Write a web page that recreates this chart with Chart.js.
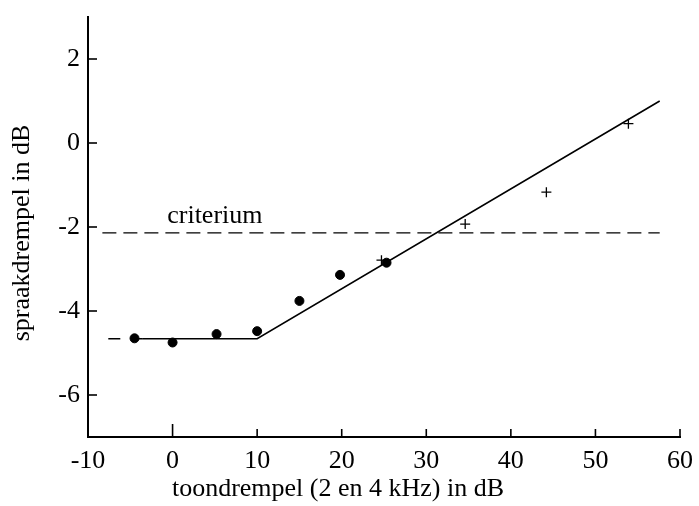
<!DOCTYPE html>
<html>
<head>
<meta charset="utf-8">
<script src="https://cdn.jsdelivr.net/npm/chart.js@4.4.0/dist/chart.umd.min.js"></script>
<style>
  html, body { margin: 0; padding: 0; background: #fff; }
  #wrap { width: 699px; height: 506px; }
</style>
</head>
<body>
<div id="wrap"><canvas id="drempelChart"></canvas></div>
<script>
// gemeten punten (dots) en plusjes
var dotX = [-4.5, 0, 5.2, 10, 15, 19.8, 25.3];
var dotY = [-4.65, -4.75, -4.55, -4.48, -3.76, -3.14, -2.85];
var plusX = [24.7, 34.6, 44.2, 53.9];
var plusY = [-2.79, -1.93, -1.17, 0.46];

// model lijn (knik bij 10 dB)
var fitDashX = [-7.6, -3.6];
var fitDashY = [-4.66, -4.66];
var fitX = [-3.6, 10, 57.6];
var fitY = [-4.66, -4.66, 1.0];

// criterium
var critX = [-8.3, 57.6];
var critY = [-2.14, -2.14];
var critLabel = 'criterium';
var critLabelPos = [5.0, -1.74];

var xTicks = [-10, 0, 10, 20, 30, 40, 50, 60];
var yTicks = [-6, -4, -2, 0, 2];

var xTitle = 'toondrempel (2 en 4 kHz) in dB';
var yTitle = 'spraakdrempel in dB';

function pts(xs, ys) {
    return xs.map(function (x, i) { return { x: x, y: ys[i] }; });
}

var serif = "'Liberation Serif', 'DejaVu Serif', serif";

var extras = {
    id: 'extras',
    afterDraw: function (chart) {
        var c = chart.ctx, xs = chart.scales.x, ys = chart.scales.y;
        var area = chart.chartArea;
        c.save();
        c.strokeStyle = '#000';
        c.lineWidth = 1.6;
        // ticks naar binnen
        xTicks.forEach(function (v) {
            var px = xs.getPixelForValue(v);
            var len = v === 0 ? 13 : 8;
            c.beginPath();
            c.moveTo(px, area.bottom);
            c.lineTo(px, area.bottom - len);
            c.stroke();
        });
        yTicks.forEach(function (v) {
            var py = ys.getPixelForValue(v);
            c.beginPath();
            c.moveTo(area.left, py);
            c.lineTo(area.left + 9, py);
            c.stroke();
        });
        c.fillStyle = '#000';
        c.font = '26px ' + serif;
        c.textAlign = 'center';
        c.textBaseline = 'middle';
        // criterium tekst
        c.fillText(critLabel, xs.getPixelForValue(critLabelPos[0]), ys.getPixelForValue(critLabelPos[1]));
        // as titels
        c.fillText(xTitle, 338, 489);
        c.translate(22, 233);
        c.rotate(-Math.PI / 2);
        c.fillText(yTitle, 0, 0);
        c.restore();
    }
};

var ctx = document.getElementById('drempelChart').getContext('2d');
var drempelChart = new Chart(ctx, {
    type: 'scatter',
    data: {
        datasets: [{
            data: pts(critX, critY),
            showLine: true,
            borderColor: '#000',
            borderWidth: 1.3,
            borderDash: [14, 7],
            pointRadius: 0
        }, {
            data: pts(fitDashX, fitDashY),
            showLine: true,
            borderColor: '#000',
            borderWidth: 1.5,
            borderDash: [12, 14],
            pointRadius: 0
        }, {
            data: pts(fitX, fitY),
            showLine: true,
            borderColor: '#000',
            borderWidth: 1.6,
            pointRadius: 0
        }, {
            data: pts(dotX, dotY),
            backgroundColor: '#000',
            borderColor: '#000',
            pointRadius: 4.5,
            pointStyle: 'circle'
        }, {
            data: pts(plusX, plusY),
            borderColor: '#000',
            borderWidth: 1.3,
            pointRadius: 5,
            pointStyle: 'cross'
        }]
    },
    options: {
        responsive: true,
        maintainAspectRatio: false,
        animation: false,
        layout: { padding: { top: 17, right: 19, left: 0, bottom: 0 } },
        plugins: {
            legend: { display: false },
            tooltip: { enabled: false }
        },
        scales: {
            x: {
                type: 'linear',
                min: -10,
                max: 60,
                afterBuildTicks: function (s) { s.ticks = xTicks.map(function (v) { return { value: v }; }); },
                afterFit: function (s) { s.height = 69; s.paddingLeft = 0; s.paddingRight = 0; },
                grid: { display: false, drawTicks: false },
                border: { display: true, color: '#000', width: 2 },
                ticks: {
                    color: '#000',
                    padding: 9,
                    maxRotation: 0,
                    autoSkip: false,
                    font: { family: serif, size: 26 },
                    callback: function (v) { return String(v); }
                }
            },
            y: {
                type: 'linear',
                min: -7,
                max: 3,
                afterBuildTicks: function (s) { s.ticks = yTicks.map(function (v) { return { value: v }; }); },
                afterFit: function (s) { s.width = 88; s.paddingTop = 0; s.paddingBottom = 0; },
                grid: { display: false, drawTicks: false },
                border: { display: true, color: '#000', width: 2 },
                ticks: {
                    color: '#000',
                    padding: 8,
                    font: { family: serif, size: 26 },
                    callback: function (v) { return String(v); }
                }
            }
        }
    },
    plugins: [extras]
});
</script>
</body>
</html>
